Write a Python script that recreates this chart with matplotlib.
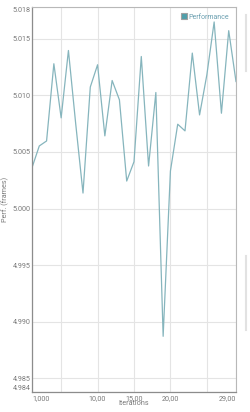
import matplotlib.pyplot as plt
from matplotlib.lines import Line2D

# data
iterations = list(range(1, 30))
perf = [5.00361, 5.00553, 5.00597, 5.01279, 5.00801, 5.01396, 5.00748,
        5.00137, 5.01073, 5.01270, 5.00642, 5.01131, 5.00960, 5.00243,
        5.00414, 5.01343, 5.00376, 5.01025, 4.98872, 5.00332, 5.00745,
        5.00686, 5.01373, 5.00827, 5.01181, 5.01648, 5.00842, 5.01571,
        5.01122]

y_ticks = [4.985, 4.990, 4.995, 5.000, 5.005, 5.010, 5.015]
y_labels = ["4.985", "4.990", "4.995", "5.000", "5.005", "5.010", "5.015"]
y_min, y_max = 4.9838, 5.0178
x_ticks = [1, 5, 10, 15, 20, 25, 29]
x_labels = ["1,000", "", "10,00", "15,00", "20,00", "", "29,00"]

line_color = "#86b5bd"
text_color = "#7a7a7a"
grid_color = "#e4e4e4"

plt.rcParams['font.family'] = ['Roboto', 'DejaVu Sans']

fig = plt.figure(figsize=(2.5, 4.12), dpi=100)
ax = fig.add_axes([0.128, 0.0485, 0.816, 0.9345])

ax.plot(iterations, perf, color=line_color, lw=0.9, label="Performance")

ax.set_xlim(1, 29)
ax.set_ylim(y_min, y_max)

ax.set_yticks([y_min] + y_ticks + [y_max])
ax.set_yticklabels(["4.984"] + y_labels + ["5.018"])
ax.set_xticks(x_ticks)
ax.set_xticklabels(x_labels)
xl = ax.get_xticklabels()
xl[0].set_ha("left")
xl[-1].set_ha("right")
yl = ax.get_yticklabels()
yl[0].set_va("bottom")
yl[-1].set_va("top")

ax.tick_params(axis="both", length=0, labelsize=5.2, colors=text_color)
ax.tick_params(axis="y", pad=1)
ax.tick_params(axis="x", pad=2)
ax.grid(True, color=grid_color, lw=0.8)
ax.set_axisbelow(True)

for side in ["top", "right"]:
    ax.spines[side].set_color("#b8b8b8")
    ax.spines[side].set_linewidth(0.8)
for side in ["left", "bottom"]:
    ax.spines[side].set_color("#8c8c8c")
    ax.spines[side].set_linewidth(0.9)

ax.set_xlabel("Iterations", fontsize=5.2, color=text_color, labelpad=-1)
ax.set_ylabel("Perf. (frames)", fontsize=5.2, color=text_color, labelpad=2)

handle = Line2D([], [], marker="s", ls="", markersize=5,
                markerfacecolor="#4f9eaa", markeredgecolor="#a0a0a0",
                markeredgewidth=0.8)
leg = ax.legend([handle], ["Performance"], loc="upper right",
                bbox_to_anchor=(0.99, 0.995), frameon=False, fontsize=5,
                handlelength=0.8, handletextpad=0.3, borderpad=0.2,
                labelcolor="#6a9fb0")

# faint scroll bars at the right edge
fig.add_artist(Line2D([0.982, 0.982], [1 - 15 / 412, 1 - 71 / 412],
                      color="#e2e2e2", lw=1.5))
fig.add_artist(Line2D([0.982, 0.982], [1 - 256 / 412, 1 - 330 / 412],
                      color="#e2e2e2", lw=1.5))

fig.savefig("out.png", dpi=100)
